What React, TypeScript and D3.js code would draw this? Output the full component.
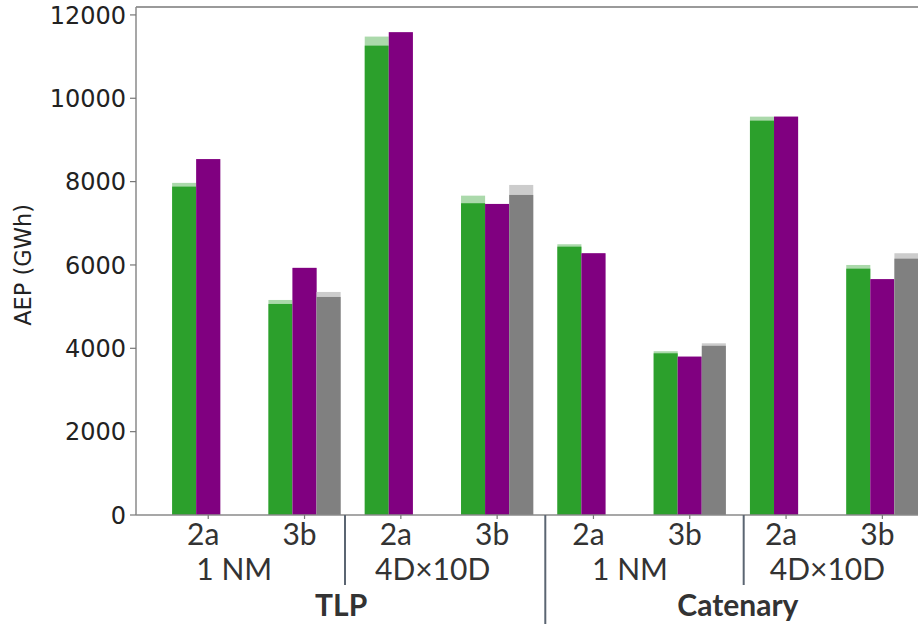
import React from 'react';
import * as d3 from 'd3';

// scenario ticks (x axis, first row)
const cases = ['2a', '3b', '2a', '3b', '2a', '3b', '2a', '3b'];
const layouts = ['1 NM', '4D×10D', '1 NM', '4D×10D'];
const platforms = ['TLP', 'Catenary'];

// AEP (GWh)
const greenNet = [7880, 5064, 11263, 7481, 6439, 3880, 9463, 5911];
const greenGross = [7970, 5160, 11480, 7663, 6497, 3930, 9559, 6000];
const purpleNet = [8540, 5930, 11585, 7464, 6281, 3800, 9559, 5660];
const grayNet = [null, 5232, null, 7680, null, 4060, null, 6151];
const grayGross = [null, 5352, null, 7920, null, 4120, null, 6281];

const yTicks = [0, 2000, 4000, 6000, 8000, 10000, 12000];

const W = 918;
const H = 624;

const App = () => {
  const x = d3.scaleLinear().domain([-0.75, 7.37]).range([136, W]);
  const y = d3.scaleLinear().domain([0, 12190]).range([515, 7]);
  const bw = x(0.25) - x(0);

  const series = [
    { net: greenNet, gross: greenGross, off: -0.25, c: '#2ca02c', light: '#abd9ab' },
    { net: purpleNet, gross: purpleNet, off: 0, c: '#800080', light: '#cc99cc' },
    { net: grayNet, gross: grayGross, off: 0.25, c: '#808080', light: '#cccccc' },
  ];

  // layout label centres and separators, in x units
  const layoutPos = [0.27, 2.33, 4.38, 6.43];
  const platformPos = [1.38, 5.5];
  const layoutSeps = [1.42, 5.56];
  const platformSep = 3.5;

  const lblFont = 'Lato, "Open Sans", sans-serif';
  const axFont = '"DejaVu Sans", sans-serif';

  return (
    <svg width={W} height={H} style={{ position: 'absolute', left: 0, top: 0, background: '#fff' }}>
      {/* bars */}
      {series.map((s, si) => (
        <g key={si}>
          {s.gross.map((v, i) =>
            v == null ? null : (
              <rect key={'g' + i} x={x(i + s.off) - bw / 2} width={bw}
                y={y(v)} height={y(0) - y(v)} fill={s.light} />
            )
          )}
          {s.net.map((v, i) =>
            v == null ? null : (
              <rect key={'n' + i} x={x(i + s.off) - bw / 2} width={bw}
                y={y(v)} height={y(0) - y(v)} fill={s.c} />
            )
          )}
        </g>
      ))}

      {/* spines */}
      <line x1={x(-0.75)} x2={W} y1={y(12190)} y2={y(12190)} stroke="#9a9a9a" strokeWidth={2} />
      <line x1={x(-0.75)} x2={x(-0.75)} y1={y(12190)} y2={y(0)} stroke="#8a8a8a" strokeWidth={1.5} />
      <line x1={x(-0.75)} x2={W} y1={y(0)} y2={y(0)} stroke="#8a8a8a" strokeWidth={1.5} />

      {/* y axis */}
      {yTicks.map((t) => (
        <g key={t}>
          <line x1={x(-0.75) - 6} x2={x(-0.75)} y1={y(t)} y2={y(t)} stroke="#777" strokeWidth={1.2} />
          <text x={x(-0.75) - 10} y={y(t)} dy="0.36em" textAnchor="end"
            fontFamily={axFont} fontSize={24} fill="#222">{t}</text>
        </g>
      ))}
      <text transform={`translate(31,${(y(0) + y(12000)) / 2}) rotate(-90)`} textAnchor="middle"
        fontFamily={axFont} fontSize={22.5} fill="#222">AEP (GWh)</text>

      {/* x ticks */}
      {cases.map((c, i) => (
        <g key={i}>
          <line x1={x(i)} x2={x(i)} y1={y(0)} y2={y(0) + 4} stroke="#777" strokeWidth={1.2} />
          <text x={x(i) - 5} y={545} textAnchor="middle" fontFamily={lblFont}
            fontSize={30} fill="#333">{c}</text>
        </g>
      ))}
      {layouts.map((l, i) => (
        <text key={i} x={x(layoutPos[i])} y={580} textAnchor="middle" fontFamily={lblFont}
          fontSize={30} fill="#333">{l}</text>
      ))}
      {platforms.map((p, i) => (
        <text key={i} x={x(platformPos[i])} y={616} textAnchor="middle" fontFamily={lblFont}
          fontWeight="bold" fontSize={30} fill="#333">{p}</text>
      ))}

      {/* group separators */}
      {layoutSeps.map((s, i) => (
        <line key={i} x1={x(s)} x2={x(s)} y1={y(0)} y2={585} stroke="#5b6572" strokeWidth={2} />
      ))}
      <line x1={x(platformSep)} x2={x(platformSep)} y1={y(0)} y2={H} stroke="#5b6572" strokeWidth={2} />
    </svg>
  );
};

export default App;
